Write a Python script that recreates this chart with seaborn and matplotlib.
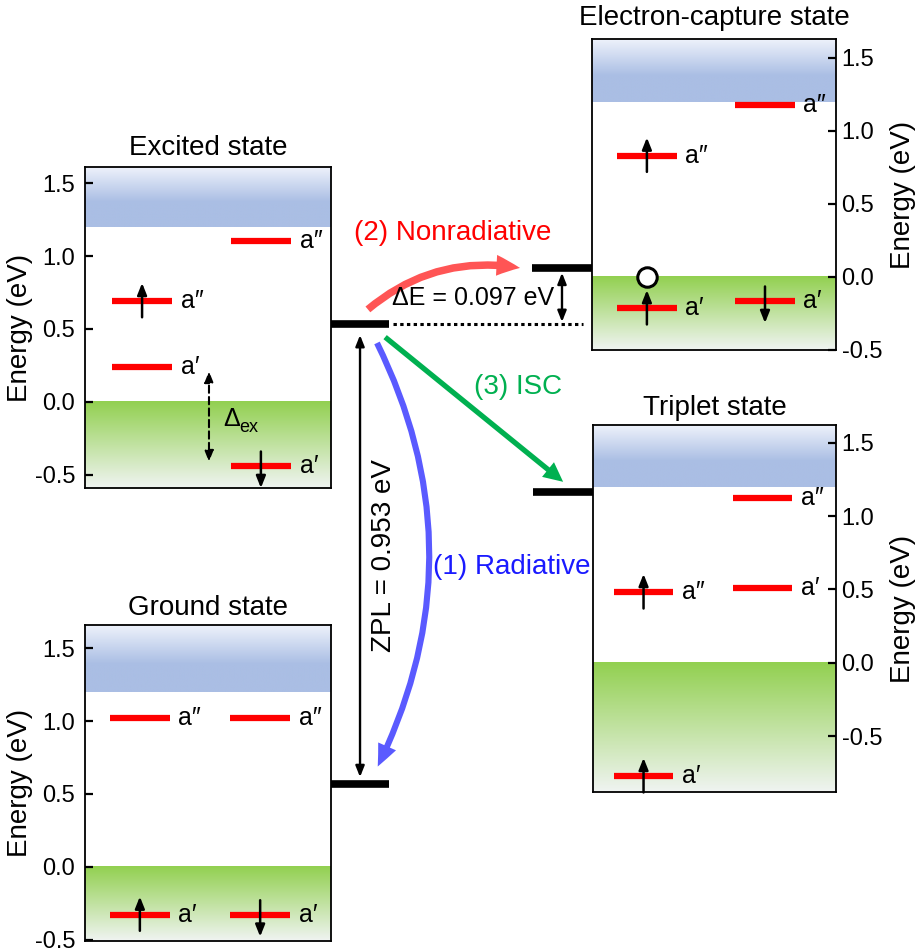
import numpy as np
import pandas as pd
import matplotlib
matplotlib.use("Agg")
import matplotlib.pyplot as plt
import seaborn as sns

sns.set_theme(style="white")
plt.rcParams['font.family'] = ['Liberation Sans', 'DejaVu Sans']
plt.rcParams['axes.unicode_minus'] = False
plt.rcParams['axes.edgecolor'] = 'black'
plt.rcParams['axes.linewidth'] = 1.3
plt.rcParams['text.color'] = 'black'
plt.rcParams['axes.labelcolor'] = 'black'
plt.rcParams['ytick.color'] = 'black'

# ------------------------------------------------------------------ data
panel_titles = ["Excited state", "Ground state", "Electron-capture state", "Triplet state"]
panel_ylims = [(-0.59, 1.61), (-0.51, 1.66), (-0.5, 1.63), (-0.88, 1.62)]
cbm_energy = 1.2      # conduction band edge (eV)
vbm_energy = 0.0      # valence band edge (eV)
yticks = [-0.5, 0.0, 0.5, 1.0, 1.5]
ytick_labels = ["-0.5", "0.0", "0.5", "1.0", "1.5"]

# defect levels: energy, spin channel (0 = up, 1 = down), symmetry, occupation
excited_E = [0.69, 0.24, 1.10, -0.44]
excited_ch = [0, 0, 1, 1]
excited_sym = ["a″", "a′", "a″", "a′"]
excited_occ = ["up", "", "", "down"]

ground_E = [1.02, 1.02, -0.33, -0.33]
ground_ch = [0, 1, 0, 1]
ground_sym = ["a″", "a″", "a′", "a′"]
ground_occ = ["", "", "up", "down"]

ec_E = [0.83, 1.18, -0.215, -0.165]
ec_ch = [0, 1, 0, 1]
ec_sym = ["a″", "a″", "a′", "a′"]
ec_occ = ["up", "", "up", "down"]

triplet_E = [0.48, 1.125, 0.512, -0.773]
triplet_ch = [0, 1, 1, 0]
triplet_sym = ["a″", "a″", "a′", "a′"]
triplet_occ = ["up", "", "", "up"]

# schematic total-energy bars next to each panel (in that panel's energy axis)
config_levels = [0.534, 0.568, 0.062, 1.163]

process_labels = ["(1) Radiative", "(2) Nonradiative", "(3) ISC"]
zpl_label = "ZPL = 0.953 eV"
de_label = "ΔE = 0.097 eV"

# ------------------------------------------------------------------ layout
W, H = 919, 949
fig = plt.figure(figsize=(W / 100, H / 100), dpi=100)

px_rects = [(85, 167, 331, 488), (85, 625, 331, 941), (592, 39, 836, 350), (593, 425, 836, 792)]
col_centers = [(2.32, 7.15), (2.23, 7.12), (2.25, 7.09), (2.08, 6.98)]
half_len = 1.22
title_pads = [8.5, 7.5, 10, 7]
right_side = [False, False, True, True]

levels = [
    (excited_E, excited_ch, excited_sym, excited_occ),
    (ground_E, ground_ch, ground_sym, ground_occ),
    (ec_E, ec_ch, ec_sym, ec_occ),
    (triplet_E, triplet_ch, triplet_sym, triplet_occ),
]

RED = "#ff0000"
SPIN_STYLE = "-|>,head_length=0.7,head_width=0.28"


def rect(l, t, r, b):
    return [l / W, 1 - b / H, (r - l) / W, (b - t) / H]


def draw_band(ax, y0, y1, kind):
    n = 256
    t = np.linspace(0, 1, n)[:, None]
    if kind == "cb":
        full = np.array([170, 190, 228]) / 255
        light = np.array([238, 242, 251]) / 255
        s = np.clip((t - 0.42) / 0.58, 0, 1)
        col = full * (1 - s) + light * s
    else:
        top = np.array([146, 208, 80]) / 255
        bottom = np.array([240, 244, 242]) / 255
        col = bottom * (1 - t) + top * t
    ax.imshow(col[:, None, :], extent=[0, 10, y0, y1], origin="lower",
              aspect="auto", zorder=0, interpolation="bilinear")


axes = []
for i in range(4):
    ax = fig.add_axes(rect(*px_rects[i]))
    ylo, yhi = panel_ylims[i]
    draw_band(ax, cbm_energy, yhi, "cb")
    draw_band(ax, ylo, vbm_energy, "vb")

    E, ch, sym, occ = levels[i]
    rows = []
    for k, (e, c) in enumerate(zip(E, ch)):
        xc = col_centers[i][c]
        rows.append(dict(x=xc - half_len, E=e, lvl=k))
        rows.append(dict(x=xc + half_len, E=e, lvl=k))
    df = pd.DataFrame(rows)
    sns.lineplot(data=df, x="x", y="E", units="lvl", estimator=None, sort=False,
                 color=RED, lw=4.5, solid_capstyle="butt", ax=ax, legend=False, zorder=3)

    for e, c, s, o in zip(E, ch, sym, occ):
        xc = col_centers[i][c]
        ax.text(xc + half_len + 0.35, e, s, fontsize=18, ha="left", va="center", zorder=5)
        if o == "up":
            ax.annotate("", xy=(xc, e + 0.125), xytext=(xc, e - 0.11),
                        arrowprops=dict(arrowstyle=SPIN_STYLE, mutation_scale=10, lw=1.8,
                                        color="black", shrinkA=0, shrinkB=0),
                        annotation_clip=False, zorder=6)
        elif o == "down":
            ax.annotate("", xy=(xc, e - 0.15), xytext=(xc, e + 0.10),
                        arrowprops=dict(arrowstyle=SPIN_STYLE, mutation_scale=10, lw=1.8,
                                        color="black", shrinkA=0, shrinkB=0),
                        annotation_clip=False, zorder=6)

    ax.set_xlim(0, 10)
    ax.set_ylim(ylo, yhi)
    ax.set_xticks([])
    ax.set_xlabel("")
    ax.set_yticks(yticks)
    ax.set_yticklabels(ytick_labels)
    for sp in ax.spines.values():
        sp.set_visible(True)
        sp.set_color("black")
        sp.set_linewidth(1.3)
    if right_side[i]:
        ax.yaxis.tick_right()
        ax.yaxis.set_label_position("right")
        ax.tick_params(axis="y", which="both", right=True, left=False, direction="in",
                       length=6, width=1.6, labelsize=17, pad=4)
        ax.set_ylabel("Energy (eV)", fontsize=20, labelpad=6)
    else:
        ax.tick_params(axis="y", which="both", left=True, right=False, direction="in",
                       length=6, width=1.6, labelsize=17, pad=7)
        ax.set_ylabel("Energy (eV)", fontsize=20, labelpad=1)
    ax.set_title(panel_titles[i], fontsize=20, pad=title_pads[i])
    axes.append(ax)

ax_ex, ax_gr, ax_ec, ax_tr = axes

# hole in electron-capture state
ax_ec.plot([col_centers[2][0]], [vbm_energy], "o", ms=14, mfc="white", mec="black",
           mew=2.2, clip_on=False, zorder=7)

# delta_ex arrow in excited state
ax_ex.annotate("", xy=(5.04, excited_E[3] + 0.03), xytext=(5.04, excited_E[1] - 0.03),
               arrowprops=dict(arrowstyle="<|-|>,head_length=0.65,head_width=0.26",
                               mutation_scale=10, lw=1.5, ls=(0, (3.5, 2)), color="black",
                               shrinkA=0, shrinkB=0),
               annotation_clip=False, zorder=6)
ax_ex.text(5.6, -0.12, "Δ", fontsize=18, ha="left", va="center", zorder=6)
ax_ex.text(6.25, -0.175, "ex", fontsize=13, ha="left", va="center", zorder=6)

# schematic configuration bars
bar_kw = dict(color="black", lw=5.5, solid_capstyle="butt", clip_on=False, zorder=8)
ax_ex.plot([10, 12.35], [config_levels[0]] * 2, **bar_kw)
ax_gr.plot([10, 12.35], [config_levels[1]] * 2, **bar_kw)
ax_ec.plot([-2.46, 0], [config_levels[2]] * 2, **bar_kw)
ax_tr.plot([-2.47, 0], [config_levels[3]] * 2, **bar_kw)
ax_ex.plot([12.52, 20.24], [config_levels[0]] * 2, color="black", lw=2.2,
           ls=(0, (1.1, 1.1)), clip_on=False, zorder=8)

# overlay axes for transitions and labels (pixel coordinates)
ov = fig.add_axes([0, 0, 1, 1], zorder=20)
ov.set_xlim(0, W)
ov.set_ylim(H, 0)
ov.set_axis_off()

# ZPL double arrow
ov.annotate("", xy=(11.18, config_levels[1]), xycoords=ax_gr.transData,
            xytext=(11.18, config_levels[0]), textcoords=ax_ex.transData,
            arrowprops=dict(arrowstyle="<|-|>,head_length=0.65,head_width=0.26",
                            mutation_scale=10, lw=1.7, color="black",
                            shrinkA=8, shrinkB=5),
            annotation_clip=False)
# Delta E double arrow
ov.annotate("", xy=(19.39, config_levels[0]), xycoords=ax_ex.transData,
            xytext=(-1.23, config_levels[2]), textcoords=ax_ec.transData,
            arrowprops=dict(arrowstyle="<|-|>,head_length=0.65,head_width=0.26",
                            mutation_scale=10, lw=1.7, color="black",
                            shrinkA=3.5, shrinkB=1.5),
            annotation_clip=False)

# (2) nonradiative
ov.annotate("", xy=(-2.95, config_levels[2]), xycoords=ax_ec.transData,
            xytext=(11.5, config_levels[0] + 0.10), textcoords=ax_ex.transData,
            arrowprops=dict(arrowstyle="simple,head_length=0.85,head_width=0.75,tail_width=0.27",
                            mutation_scale=20, lw=0, color="#ff5555",
                            connectionstyle="arc3,rad=-0.23", shrinkA=0, shrinkB=0),
            annotation_clip=False)
# (3) ISC
ov.annotate("", xy=(-1.23, config_levels[3] + 0.07), xycoords=ax_tr.transData,
            xytext=(12.2, config_levels[0] - 0.09), textcoords=ax_ex.transData,
            arrowprops=dict(arrowstyle="simple,head_length=0.7,head_width=0.68,tail_width=0.19",
                            mutation_scale=20, lw=0, color="#00b050",
                            connectionstyle="arc3,rad=0", shrinkA=0, shrinkB=0),
            annotation_clip=False)
# (1) radiative
ov.annotate("", xy=(11.9, config_levels[1] + 0.12), xycoords=ax_gr.transData,
            xytext=(11.87, config_levels[0] - 0.13), textcoords=ax_ex.transData,
            arrowprops=dict(arrowstyle="simple,head_length=0.8,head_width=0.7,tail_width=0.22",
                            mutation_scale=20, lw=0, color="#5a5aff",
                            connectionstyle="arc3,rad=-0.245", shrinkA=0, shrinkB=0),
            annotation_clip=False)

ov.text(453, 233, process_labels[1], color="#ff0000", fontsize=20, ha="center", va="center")
ov.text(518, 387, process_labels[2], color="#00b050", fontsize=20, ha="center", va="center")
ov.text(433, 567, process_labels[0], color="#1a1aff", fontsize=20, ha="left", va="center")
ov.text(473, 298, de_label, fontsize=18, ha="center", va="center")
ov.text(384, 556, zpl_label, fontsize=20, ha="center", va="center", rotation=90)

fig.savefig("out.png", dpi=100)
